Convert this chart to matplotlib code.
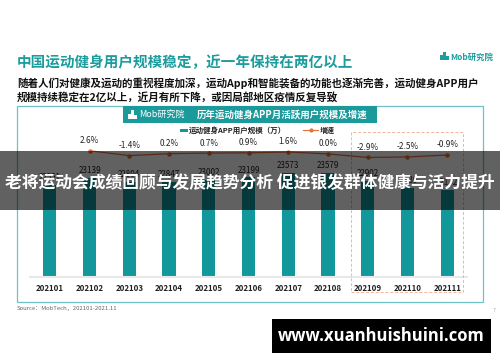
import matplotlib
matplotlib.use("Agg")
import matplotlib.pyplot as plt
from matplotlib.patches import Rectangle
from matplotlib.lines import Line2D

plt.rcParams['font.family'] = ['Noto Sans CJK SC', 'DejaVu Sans']

# data
months = ['202101', '202102', '202103', '202104', '202105', '202106',
          '202107', '202108', '202109', '202110', '202111']
users = [22551, 23139, 22804, 22847, 23002, 23199, 23573, 23579, 22902, 22339, 22132]
growth = [None, 2.6, -1.4, 0.2, 0.7, 0.9, 1.6, 0.0, -2.9, -2.5, -0.9]

title = '中国运动健身用户规模稳定，近一年保持在两亿以上'
subtitle = ['随着人们对健康及运动的重视程度加深，运动App和智能装备的功能也逐渐完善，运动健身APP用户',
            '规模持续稳定在2亿以上，近月有所下降，或因局部地区疫情反复导致']
chart_title = '历年运动健身APP月活跃用户规模及增速'
legend_bar = '运动健身APP用户规模（万）'
legend_line = '增速'
overlay_text = '老将运动会成绩回顾与发展趋势分析 促进银发群体健康与活力提升'
source = 'Source：MobTech，202101-2021.11'
site = 'www.xuanhuishuini.com'

TEAL = '#12979b'
TEAL_TXT = '#1d9c9d'
ORANGE = '#e4703c'

W, H = 500, 362
fig = plt.figure(figsize=(W / 100, H / 100), dpi=100)


def fx(x):
    return x / W


def fy(y):
    return 1 - y / H


def box(x0, y0, x1, y1, **kw):
    r = Rectangle((fx(x0), fy(y1)), fx(x1) - fx(x0), fy(y0) - fy(y1),
                  transform=fig.transFigure, **kw)
    fig.patches.append(r)
    return r


def text(x, y, s, **kw):
    return fig.text(fx(x), fy(y), s, **kw)


# header
text(17, 62, title, fontsize=10.5, fontweight='bold', color=TEAL_TXT, va='center')
for i, line in enumerate(subtitle):
    text(17, 83 + 14 * i, line, fontsize=7.6, fontweight='bold', color='#111111', va='center')

# small Mob logo top right
for (x0, h) in [(440, 5), (443, 8), (446, 4)]:
    box(x0, 60 - h, x0 + 2.5, 60, color=TEAL_TXT, lw=0)
text(450, 57, 'Mob研究院', fontsize=6.0, fontstyle='italic', color=TEAL_TXT,
     va='center', fontweight='bold')

# chart frame
box(17, 106, 483, 302, fill=False, edgecolor='#6cc2c4', lw=0.9)
box(123, 106, 377, 123, color='#1b9a9c', lw=0)
for (x0, h) in [(128, 5), (131, 9), (134, 4)]:
    box(x0, 119 - h, x0 + 2.5, 119, color='white', lw=0)
text(139, 114.5, 'Mob研究院', fontsize=6.5, fontstyle='italic', color='white',
     va='center')
text(197, 114.5, chart_title, fontsize=6.8, fontweight='bold', color='white', va='center')

# legend
box(180, 128.5, 188, 131.5, color=TEAL, lw=0)
text(189, 130, legend_bar, fontsize=5.4, fontweight='bold', color='#222222', va='center')
fig.lines.append(Line2D([fx(303), fx(318)], [fy(130), fy(130)], transform=fig.transFigure,
                        color=ORANGE, lw=0.8))
fig.lines.append(Line2D([fx(310.5)], [fy(130)], transform=fig.transFigure,
                        color=ORANGE, marker='o', markersize=2))
text(320, 130, legend_line, fontsize=5.4, fontweight='bold', color='#222222', va='center')

# dashed highlight of the last three months
box(351, 132, 463, 292, fill=False, edgecolor='#f5b39a', lw=0.7, ls=(0, (3, 2)))

# bar chart
ax = fig.add_axes([fx(30), fy(277), fx(467) - fx(30), fy(120) - fy(277)])
ax.set_facecolor('none')
x = list(range(len(months)))
ax.bar(x, users, width=0.33, color=TEAL, zorder=2)
for xi, v in zip(x, users):
    ax.annotate(str(v), (xi, v), xytext=(0, 2), textcoords='offset points',
                ha='center', va='bottom', fontsize=5.8, color='#222222')
ax.set_xlim(-0.5, 10.5)
ax.set_ylim(14733, 28078)
ax.set_xticks(x)
ax.set_xticklabels(months, fontsize=5.7, fontweight='bold', color='#222222')
ax.tick_params(axis='x', length=0, pad=5)
ax.set_yticks([])
for s in ['top', 'left', 'right']:
    ax.spines[s].set_visible(False)
ax.spines['bottom'].set_color('#e8e8e8')
ax.spines['bottom'].set_linewidth(1.5)

ax2 = ax.twinx()
gx = [xi for xi, g in zip(x, growth) if g is not None]
gy = [g for g in growth if g is not None]
ax2.plot(gx, gy, color=ORANGE, lw=0.9, marker='o', markersize=2.2, zorder=3)
for xi, g in zip(gx, gy):
    ax2.annotate(f'{g:.1f}%', (xi, g), xytext=(0, 4.0), textcoords='offset points',
                 ha='center', va='bottom', fontsize=5.9, color='#222222')
ax2.set_ylim(-100.9, 27.8)
ax2.set_yticks([])
for s in ax2.spines.values():
    s.set_visible(False)

# footer
text(17, 308, source, fontsize=4.3, color='#666666', va='center')
text(493, 311, '7', fontsize=4, color='#aaaaaa', va='center')
box(272, 319, 491, 353, color='black', lw=0, zorder=10)
text(381.5, 336, site, fontsize=12, fontweight='bold', color='white', ha='center',
     va='center', family='Open Sans', zorder=11)

# watermark band over the chart
box(0, 151, 500, 210, color='black', alpha=0.62, lw=0, zorder=10)
text(250, 183, overlay_text, fontsize=12.1, fontweight='bold', color='white',
     ha='center', va='center', zorder=11)

fig.savefig('out.png', dpi=100)
